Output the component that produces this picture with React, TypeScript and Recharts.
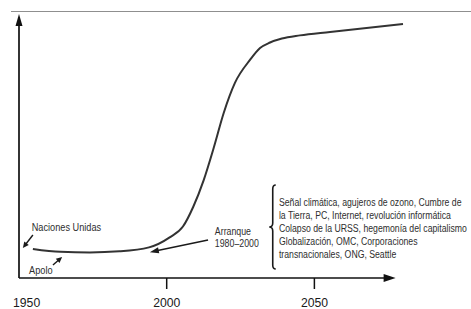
import { LineChart, Line, XAxis, YAxis, ReferenceLine, ReferenceDot } from 'recharts';

// Curve: development index over time (arbitrary 0-100 units)
const years = [1954.7, 1964, 1974, 1984, 1994, 2001, 2005.5, 2009, 2012.5, 2016, 2019.3, 2023.1, 2028.2, 2031.6, 2035, 2039, 2045.1, 2055.3, 2080];
const index = [11.0, 9.9, 9.7, 10.1, 11.6, 15.4, 19.5, 27, 37, 49.6, 62.5, 73.9, 82.6, 87.1, 89.2, 90.7, 91.9, 93.2, 96.2];
const tickYears = [1950, 2000, 2050];

// Annotations, placed in data units [year, value]
const annotationLabels = ['Naciones Unidas', 'Apolo'];
const annotationAnchors = [[1954.3, 19.3], [1953.4, 2.8]];
const annotationArrows = [
  [[1954.7, 16.3], [1951.3, 11.4]],
  [[1961.5, 4.9], [1964.6, 8.0]],
  [[2014.0, 14.4], [1994.3, 9.8]],
];
const arranqueLines = ['Arranque', '1980–2000'];
const arranqueAnchor = [2016.3, 17.8];
const braceSpan = [[2035.9, 35.2], [2035.9, 3.4]];
const eventLines = [
  'Señal climática, agujeros de ozono, Cumbre de',
  'la Tierra, PC, Internet, revolución informática',
  'Colapso de la URSS, hegemonía del capitalismo',
  'Globalización, OMC, Corporaciones',
  'transnacionales, ONG, Seattle',
];
const eventsAnchor = [2038.0, 28.4];

const data = years.map((y, i) => ({ year: y, value: index[i] }));

const FONT = '"Liberation Sans", Arial, sans-serif';
const TEXT = '#2e2e2e';

const ArrowShape = (props: any) => {
  const { x1, y1, x2, y2, head = 7, half = 3, width = 1.5, color = '#111' } = props;
  const dx = x2 - x1;
  const dy = y2 - y1;
  const len = Math.sqrt(dx * dx + dy * dy) || 1;
  const ux = dx / len;
  const uy = dy / len;
  const bx = x2 - ux * head;
  const by = y2 - uy * head;
  const px = -uy * half;
  const py = ux * half;
  return (
    <g>
      <line x1={x1} y1={y1} x2={bx + ux} y2={by + uy} stroke={color} strokeWidth={width} />
      <polygon points={`${x2},${y2} ${bx + px},${by + py} ${bx - px},${by - py}`} fill={color} />
    </g>
  );
};

const BraceShape = (props: any) => {
  const { x1, y1, y2 } = props;
  const mid = (y1 + y2) / 2;
  const x = x1;
  const d = `M ${x + 3} ${y1} Q ${x} ${y1} ${x} ${y1 + 4} L ${x} ${mid - 4} Q ${x} ${mid} ${x - 3.5} ${mid} Q ${x} ${mid} ${x} ${mid + 4} L ${x} ${y2 - 4} Q ${x} ${y2} ${x + 3} ${y2}`;
  return <path d={d} fill="none" stroke="#1a1a1a" strokeWidth={1.6} />;
};

const TextBlock = ({ cx, cy, lines, size = 10, spacing = 12.9, squeeze = 0.9 }: any) => (
  <g transform={`translate(${cx},${cy}) scale(${squeeze},1)`}>
    {lines.map((t: string, i: number) => (
      <text key={i} x={0} y={i * spacing} dominantBaseline="central" fontSize={size} fontFamily={FONT} fill={TEXT}>
        {t}
      </text>
    ))}
  </g>
);

const YearTick = (props: any) => {
  const { x, y, payload } = props;
  const first = payload.value === tickYears[0];
  return (
    <g>
      {!first && <line x1={x} y1={y} x2={x} y2={y + 11} stroke="#111" strokeWidth={1.5} />}
      <g transform={`translate(${first ? x - 6 : x - 13.5},${y + 28.5}) scale(0.94,1)`}>
        <text x={0} y={0} fontSize={13} fontFamily={FONT} fill="#1a1a1a">
          {payload.value}
        </text>
      </g>
    </g>
  );
};

export default function App() {
  return (
    <div style={{ position: 'fixed', left: 0, top: 0, width: 471, height: 309, background: '#fff', overflow: 'hidden' }}>
      <div style={{ position: 'absolute', left: 11, top: 11, width: 460, height: 1, background: '#8f8f8f' }} />
      <LineChart width={471} height={309} data={data} margin={{ top: 14, right: 68, left: 19, bottom: 0 }}>
        <XAxis
          dataKey="year"
          type="number"
          domain={[1950, 2080]}
          ticks={tickYears}
          height={31}
          axisLine={false}
          tickLine={false}
          tickSize={0}
          tickMargin={0}
          tick={(p: any) => <YearTick {...p} />}
        />
        <YAxis hide type="number" domain={[0, 100]} />
        <ReferenceLine
          segment={[{ x: 1950, y: 0 }, { x: 1950, y: 100 }]}
          ifOverflow="visible"
          shape={(p: any) => <ArrowShape {...p} x1={p.x1} y1={Math.max(p.y1, p.y2)} x2={p.x2} y2={Math.min(p.y1, p.y2)} head={12} half={3.5} width={1.7} />}
        />
        <ReferenceLine
          segment={[{ x: 1950, y: 0 }, { x: 2077.5, y: 0 }]}
          ifOverflow="visible"
          shape={(p: any) => <ArrowShape {...p} head={12} half={4} width={1.7} />}
        />
        <Line
          type="monotone"
          dataKey="value"
          stroke="#333"
          strokeWidth={2}
          dot={false}
          isAnimationActive={false}
        />
        {annotationArrows.map((a, i) => (
          <ReferenceLine
            key={`arr-${i}`}
            segment={[{ x: a[0][0], y: a[0][1] }, { x: a[1][0], y: a[1][1] }]}
            ifOverflow="visible"
            shape={(p: any) => <ArrowShape {...p} head={i === 2 ? 9 : 6} half={i === 2 ? 3 : 2.8} width={1.4} color="#1a1a1a" />}
          />
        ))}
        {annotationLabels.map((t, i) => (
          <ReferenceDot
            key={`lab-${i}`}
            x={annotationAnchors[i][0]}
            y={annotationAnchors[i][1]}
            ifOverflow="visible"
            shape={(p: any) => <TextBlock cx={p.cx} cy={p.cy} lines={[t]} squeeze={0.92} />}
          />
        ))}
        <ReferenceDot
          x={arranqueAnchor[0]}
          y={arranqueAnchor[1]}
          ifOverflow="visible"
          shape={(p: any) => <TextBlock cx={p.cx} cy={p.cy} lines={arranqueLines} spacing={12} squeeze={0.88} />}
        />
        <ReferenceLine
          segment={[{ x: braceSpan[0][0], y: braceSpan[0][1] }, { x: braceSpan[1][0], y: braceSpan[1][1] }]}
          ifOverflow="visible"
          shape={(p: any) => <BraceShape {...p} />}
        />
        <ReferenceDot
          x={eventsAnchor[0]}
          y={eventsAnchor[1]}
          ifOverflow="visible"
          shape={(p: any) => <TextBlock cx={p.cx} cy={p.cy} lines={eventLines} squeeze={0.87} />}
        />
      </LineChart>
    </div>
  );
}
